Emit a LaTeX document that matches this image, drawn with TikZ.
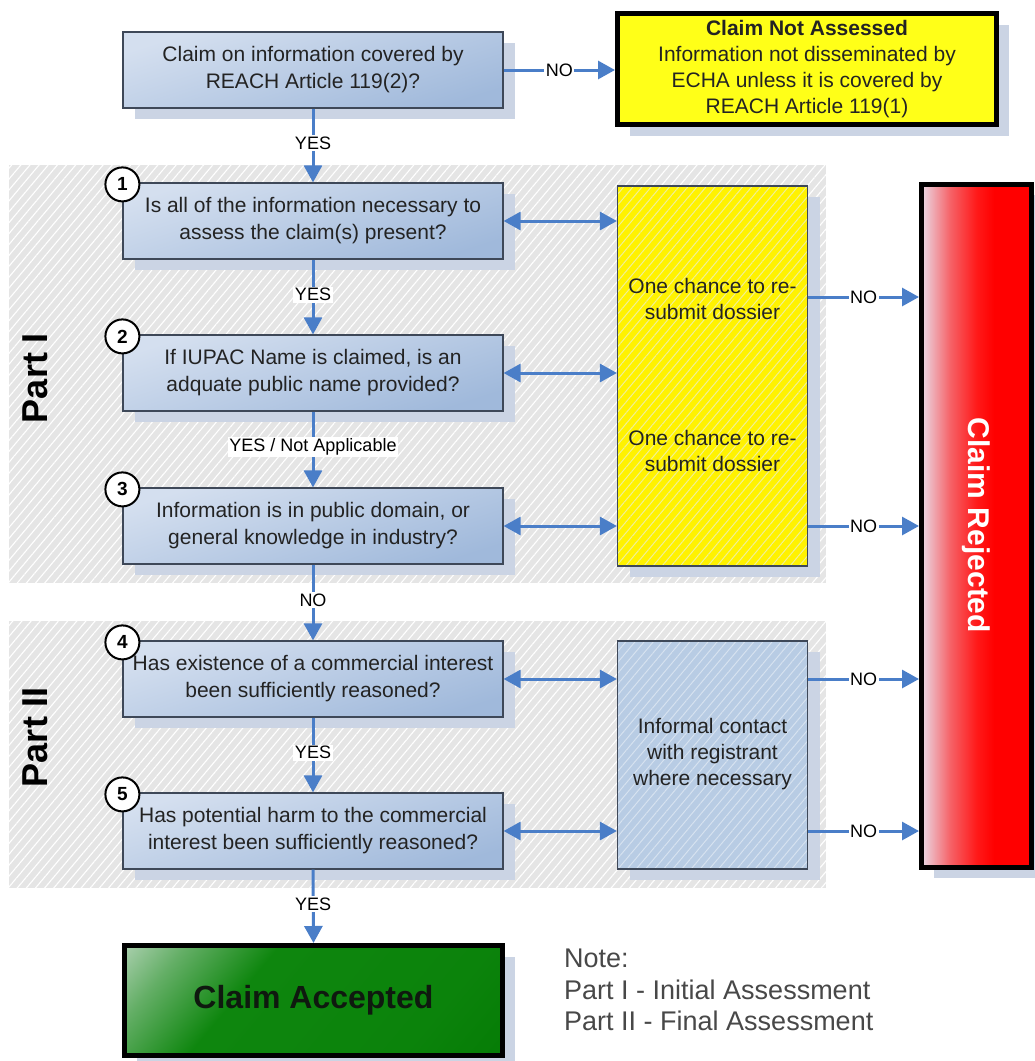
\documentclass[tikz,border=0pt]{standalone}
\usepackage{fontspec}
\setmainfont{Liberation Sans}
\usetikzlibrary{arrows.meta,shadows,patterns.meta,calc}

\definecolor{flowblue}{RGB}{74,126,200}
\definecolor{qtop}{RGB}{212,223,239}
\definecolor{qbot}{RGB}{160,185,219}
\definecolor{qedge}{RGB}{62,72,88}
\definecolor{shadowc}{RGB}{203,212,228}
\definecolor{panelgray}{RGB}{229,229,229}
\definecolor{infoblue}{RGB}{184,204,228}
\definecolor{infostripe}{RGB}{214,226,240}
\definecolor{yelstripe}{RGB}{240,240,150}
\definecolor{txt}{RGB}{35,35,35}
\definecolor{notegray}{RGB}{72,72,72}
\definecolor{rejlight}{RGB}{234,218,230}
\definecolor{acclight}{RGB}{205,224,210}
\definecolor{accgreen}{RGB}{14,134,14}
\definecolor{accdark}{RGB}{0,118,0}

% colour runs for the two outcome boxes
\pgfdeclarehorizontalshading{rejshade}{100bp}{color(0bp)=(rejlight); color(25bp)=(rejlight);
  color(38bp)=(red!55!rejlight); color(50bp)=(red!90!white); color(58bp)=(red); color(100bp)=(red)}
\pgfdeclarehorizontalshading{accshade}{100bp}{color(0bp)=(acclight); color(10bp)=(acclight);
  color(24bp)=(accgreen!55!acclight); color(38bp)=(accgreen); color(70bp)=(accgreen!80!accdark); color(100bp)=(accdark)}

\tikzset{
  boxshadow/.style={general shadow={fill=shadowc, shadow xshift=12pt, shadow yshift=-11pt}},
  qbox/.style={boxshadow, draw=qedge, line width=1.2pt, top color=qtop, bottom color=qbot,
    shading angle=18, minimum width=380pt, minimum height=76pt, inner sep=0pt, align=center,
    text=txt, font=\fontsize{21}{27}\selectfont},
  sidebox/.style={boxshadow, draw=qedge, line width=1.2pt, minimum width=190pt, inner sep=0pt,
    align=center, text=txt, font=\fontsize{21}{26}\selectfont},
  endbox/.style={boxshadow, draw=black, line width=5pt, inner sep=0pt, align=center},
  numc/.style={circle, draw=black, line width=2pt, fill=white, minimum size=34pt, inner sep=0pt,
    font=\fontsize{19}{19}\selectfont\bfseries},
  arr/.style={draw=flowblue, line width=3pt, -{Triangle[length=17pt,width=18pt]}},
  darr/.style={draw=flowblue, line width=3pt, {Triangle[length=17pt,width=18pt]}-{Triangle[length=17pt,width=18pt]}},
  lab/.style={fill=white, inner sep=1.5pt, text=black, font=\fontsize{18}{18}\selectfont},
  partlab/.style={inner sep=0pt, text=black, font=\fontsize{36}{36}\selectfont\bfseries},
  txtonly/.style={inner sep=0pt, align=center, text=txt, font=\fontsize{21}{26}\selectfont},
}

\begin{document}
\begin{tikzpicture}[x=1pt,y=-1pt]
\useasboundingbox (0,0) rectangle (1035,1061);

% hatched panels for Part I and Part II
\fill[panelgray] (9,165) rectangle (826,583);
\fill[pattern={Lines[angle=50,distance=7pt,line width=1.1pt]}, pattern color=white] (9,165) rectangle (826,583);
\fill[panelgray] (9,621) rectangle (826,888);
\fill[pattern={Lines[angle=50,distance=7pt,line width=1.1pt]}, pattern color=white] (9,621) rectangle (826,888);

\node[partlab, rotate=90] (p1) at (35,378) {Part I};
\node[partlab, rotate=90] (p2) at (35,737) {Part II};

% question boxes
\node[qbox] (q0) at (313,70)  {Claim on information covered by\\REACH Article 119(2)?};
\node[qbox] (q1) at (313,221) {Is all of the information necessary to\\assess the claim(s) present?};
\node[qbox] (q2) at (313,373) {If IUPAC Name is claimed, is an\\adquate public name provided?};
\node[qbox] (q3) at (313,526) {Information is in public domain, or\\general knowledge in industry?};
\node[qbox] (q4) at (313,679) {Has existence of a commercial interest\\been sufficiently reasoned?};
\node[qbox] (q5) at (313,831) {Has potential harm to the commercial\\interest been sufficiently reasoned?};

\foreach \q/\n in {q1/1,q2/2,q3/3,q4/4,q5/5}
  \node[numc] (c\n) at ([yshift=-2pt]\q.north west) {\n};

% side boxes
\node[sidebox, minimum height=380pt, fill=yellow,
  postaction={pattern={Lines[angle=50,distance=7pt,line width=1pt]}, pattern color=yelstripe},
  postaction={draw=qedge, line width=1.2pt}] (res) at (712.5,376) {};
\node[txtonly] (res1) at (712.5,299) {One chance to re-\\submit dossier};
\node[txtonly] (res2) at (712.5,451) {One chance to re-\\submit dossier};

\node[sidebox, minimum height=228pt, fill=infoblue,
  postaction={pattern={Lines[angle=50,distance=7pt,line width=1pt]}, pattern color=infostripe},
  postaction={draw=qedge, line width=1.2pt}] (inf) at (712.5,755) {};
\node[txtonly] (inft) at (712.5,754) {Informal contact\\with registrant\\where necessary};

% outcome boxes
\node[endbox, fill={rgb,255:red,255;green,255;blue,24}, minimum width=379pt, minimum height=111pt,
  text=txt, font=\fontsize{21}{26}\selectfont] (nass) at (807,69)
  {\textbf{Claim Not Assessed}\\Information not disseminated by\\ECHA unless it is covered by\\REACH Article 119(1)};

\node[endbox, shading=rejshade, minimum width=110pt, minimum height=683pt] (rej) at (976.5,525.5) {};
\node[rotate=-90, inner sep=0pt, text=white, font=\fontsize{30}{30}\selectfont\bfseries] (rejt) at (rej.center) {Claim Rejected};

\node[endbox, shading=accshade, shading angle=-40, minimum width=378pt, minimum height=110pt,
  text={rgb,255:red,15;green,25;blue,15}, font=\fontsize{32}{32}\selectfont\bfseries] (acc) at (313.5,1000.5) {Claim Accepted};

\node[anchor=north west, inner sep=0pt, align=left, text=notegray,
  font=\fontsize{27}{31.5}\selectfont] (note) at (564,949)
  {Note:\\Part I - Initial Assessment\\Part II - Final Assessment};

% main flow
\draw[arr] (q0.east) -- node[lab]{NO} (nass.west |- q0.east);
\draw[arr] (q0.south) -- node[lab, pos=0.47]{YES} (q1.north);
\draw[arr] (q1.south) -- node[lab, pos=0.47]{YES} (q2.north);
\draw[arr] (q2.south) -- node[lab, pos=0.47]{YES / Not Applicable} (q3.north);
\draw[arr] (q3.south) -- node[lab, pos=0.47]{NO} (q4.north);
\draw[arr] (q4.south) -- node[lab, pos=0.47]{YES} (q5.north);
\draw[arr] (q5.south) -- node[lab, pos=0.47]{YES} (acc.north);

% links to the side boxes
\draw[darr] (q1.east) -- (res.west |- q1.east);
\draw[darr] (q2.east) -- (res.west |- q2.east);
\draw[darr] (q3.east) -- (res.west |- q3.east);
\draw[darr] (q4.east) -- (inf.west |- q4.east);
\draw[darr] (q5.east) -- (inf.west |- q5.east);

% rejections
\coordinate (r1) at ($(q1.east)!0.5!(q2.east)$);
\draw[arr] (res.east |- r1) -- node[lab]{NO} (rej.west |- r1);
\draw[arr] (res.east |- q3.east) -- node[lab]{NO} (rej.west |- q3.east);
\draw[arr] (inf.east |- q4.east) -- node[lab]{NO} (rej.west |- q4.east);
\draw[arr] (inf.east |- q5.east) -- node[lab]{NO} (rej.west |- q5.east);
\end{tikzpicture}
\end{document}
